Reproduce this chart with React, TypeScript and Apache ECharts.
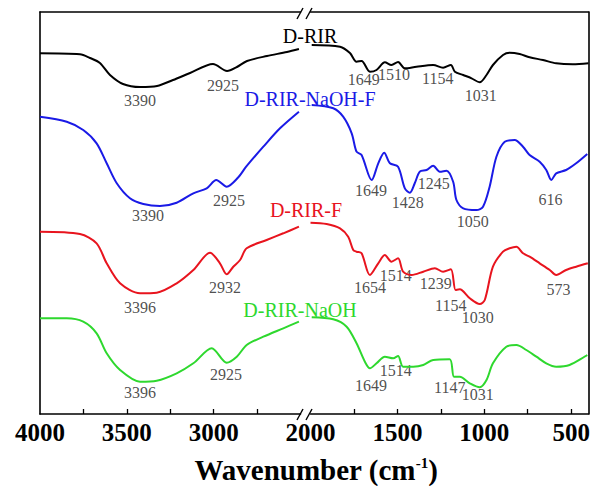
import React, { useEffect, useRef } from "react";
import * as echarts from "echarts";

// Spectra: [wavenumber (cm-1), offset transmittance (a.u.)]
const dRIR: number[][] = [
  [4000, 360.7], [3770, 359.7], [3712, 356], [3655, 351], [3597, 339], [3522, 330], [3424, 327],
  [3326, 328], [3234, 334], [3136, 341], [3004, 350], [2923, 343], [2866, 347], [2808, 353],
  [2693, 358], [2578, 362], [2509, 365],
  [1993, 369], [1830, 367.3], [1773, 361], [1735, 352.3], [1706, 353], [1658, 342.3], [1620, 344],
  [1572, 351.7], [1534, 349], [1496, 352], [1457, 345.7], [1390, 347.3], [1294, 349], [1237, 346.3],
  [1192, 349], [1169, 342.3], [1121, 339], [1073, 335.7], [1026, 331.7], [987, 339], [950, 349],
  [892, 359], [854, 361.3], [796, 360], [739, 356.7], [662, 354], [586, 350.7], [490, 349.7], [400, 350.7],
];

const dRIRNaOHF: number[][] = [
  [4000, 297.3], [3846, 292.3], [3751, 284], [3674, 270.7], [3616, 250.7], [3558, 230.7], [3482, 215.7],
  [3405, 210], [3309, 208], [3213, 211.3], [3117, 220.7], [3040, 225.7], [2985, 234], [2925, 227.3],
  [2858, 236.7], [2813, 247.3], [2714, 267.3], [2618, 285.7], [2509, 302.3],
  [1993, 309], [1869, 305.7], [1812, 297.3], [1763, 280.7], [1735, 262.3], [1706, 259], [1648, 234],
  [1610, 250.7], [1576, 261.3], [1543, 250.7], [1496, 247.3], [1457, 225.7], [1428, 221.3], [1400, 230.7],
  [1371, 242.3], [1332, 244], [1294, 248.3], [1256, 242.3], [1217, 243.3], [1179, 232.3], [1160, 214],
  [1121, 205.7], [1045, 204], [1007, 207.3], [969, 227.3], [930, 257.3], [882, 272.3], [825, 274],
  [777, 267.3], [739, 259], [681, 252.3], [643, 244], [614, 234], [586, 240.7], [529, 244], [471, 250.7],
  [407, 260],
];

const dRIRF: number[][] = [
  [4000, 182.3], [3770, 180], [3674, 170.7], [3616, 150.7], [3539, 130.7], [3424, 120.7], [3328, 121.3],
  [3213, 130.7], [3117, 144], [3021, 161.3], [2964, 150.7], [2925, 139.7], [2887, 147.3], [2848, 154],
  [2810, 165.7], [2695, 174], [2599, 180.7], [2509, 187.3],
  [2000, 191.3], [1907, 190], [1830, 185.7], [1783, 177.3], [1754, 164], [1735, 162.3], [1706, 160.7],
  [1658, 139], [1610, 150.7], [1572, 159], [1534, 152.3], [1496, 155.7], [1467, 142.3], [1418, 139],
  [1351, 142.3], [1284, 145.7], [1237, 142.3], [1192, 144.7], [1165, 124], [1141, 124.7], [1083, 115.7],
  [1026, 110], [997, 114], [950, 147.3], [892, 162.3], [854, 165.7], [815, 167.3], [777, 160.7],
  [739, 157.3], [681, 150.7], [623, 144], [586, 139], [529, 144], [471, 147.3], [404, 150.7],
];

const dRIRNaOH: number[][] = [
  [4000, 95.7], [3846, 95.7], [3751, 92.3], [3674, 80.7], [3616, 60.7], [3539, 44], [3424, 32.3],
  [3328, 33.3], [3213, 40.7], [3117, 50.7], [3011, 65.7], [2925, 51.3], [2867, 57.3], [2810, 69],
  [2714, 77.3], [2599, 85.7], [2509, 92.3],
  [1993, 96.7], [1869, 94.7], [1792, 87.3], [1735, 70.7], [1687, 52.3], [1658, 45.7], [1620, 50.7],
  [1572, 57.3], [1524, 55.7], [1496, 58], [1467, 47.3], [1409, 47.3], [1351, 49], [1294, 54],
  [1199, 54.7], [1174, 37.3], [1141, 37.3], [1083, 30.7], [1026, 26.7], [987, 34], [950, 50.7],
  [873, 67.3], [815, 69], [758, 64], [700, 57.3], [643, 50.7], [586, 47.3], [509, 49], [407, 59],
];

// Peak annotations: [label, anchor wavenumber, anchor level]
const peaksDRIR: [string, number, number][] = [
  ["3390", 3424, 314], ["2925", 2946, 329], ["1649", 1693, 335], ["1510", 1520, 340],
  ["1154", 1268, 336], ["1031", 1020, 319],
];
const peaksDRIRNaOHF: [string, number, number][] = [
  ["3390", 3378, 199], ["2925", 2912, 214], ["1649", 1652, 224], ["1428", 1440, 212],
  ["1245", 1291, 231], ["1050", 1066, 193], ["616", 618, 215],
];
const peaksDRIRF: [string, number, number][] = [
  ["3396", 3424, 107], ["2932", 2935, 127], ["1654", 1657, 127], ["1514", 1509, 139],
  ["1239", 1279, 131], ["1154", 1193, 109], ["1030", 1038, 97], ["573", 572, 125],
];
const peaksDRIRNaOH: [string, number, number][] = [
  ["3396", 3424, 22], ["2925", 2929, 40], ["1649", 1652, 29], ["1514", 1509, 44],
  ["1147", 1199, 27], ["1031", 1038, 20],
];

const sampleNames = ["D-RIR", "D-RIR-NaOH-F", "D-RIR-F", "D-RIR-NaOH"];
const sampleColors = ["#000000", "#1a1ae6", "#e8141e", "#2ed82e"];
const spectra = [dRIR, dRIRNaOHF, dRIRF, dRIRNaOH];
const peaks = [peaksDRIR, peaksDRIRNaOHF, peaksDRIRF, peaksDRIRNaOH];

const leftRange = [2500, 4000];
const rightRange = [400, 2000];
const leftTickLabels = [4000, 3500, 3000];
const rightTickLabels = [2000, 1500, 1000, 500];
const leftTicks = [3750, 3500, 3250, 3000, 2750];
const rightTicks = [1750, 1500, 1250, 1000, 750, 500];

const FONT = "'Liberation Serif', 'Times New Roman', serif";

export default function App() {
  const ref = useRef<HTMLDivElement>(null);
  useEffect(() => {
    if (!ref.current) return;
    const chart = echarts.init(ref.current, undefined, { renderer: "svg" });

    const G0L = 40, G0W = 260.5, G1L = 310.5, G1W = 278, TOP = 12, H = 402;
    const lineW = 1.6;

    const bottomAxis = (gi: number, range: number[], labels: number[], ticks: number[]) => ({
      type: "value", gridIndex: gi, min: range[0], max: range[1], inverse: true, position: "bottom",
      axisLine: { show: true, lineStyle: { color: "#000", width: lineW } },
      axisTick: { show: true, inside: true, length: 5, customValues: ticks, lineStyle: { color: "#000", width: 1.3 } },
      axisLabel: {
        show: true, customValues: labels, margin: 6, color: "#000", fontFamily: FONT,
        fontWeight: "bold", fontSize: 25, hideOverlap: false,
        formatter: (v: number) => String(v),
      },
      splitLine: { show: false },
    });
    const topAxis = (gi: number, range: number[]) => ({
      type: "value", gridIndex: gi, min: range[0], max: range[1], inverse: true, position: "top",
      axisLine: { show: true, lineStyle: { color: "#000", width: lineW } },
      axisTick: { show: false }, axisLabel: { show: false }, splitLine: { show: false },
    });
    const yAx = (gi: number, pos: string) => ({
      type: "value", gridIndex: gi, min: 0, max: 402, position: pos,
      axisLine: { show: true, onZero: false, lineStyle: { color: "#000", width: lineW } },
      axisTick: { show: false }, axisLabel: { show: false }, splitLine: { show: false },
    });

    const series: any[] = [];
    spectra.forEach((data, i) => {
      const left = data.filter((d) => d[0] >= leftRange[0]);
      const right = data.filter((d) => d[0] <= rightRange[1]);
      [left, right].forEach((part, gi) => {
        series.push({
          type: "line", name: sampleNames[i], xAxisIndex: gi, yAxisIndex: gi, data: part,
          showSymbol: false, smooth: 0.3,
          lineStyle: { color: sampleColors[i], width: 2 }, silent: true,
        });
      });
      const pl = peaks[i].filter((p) => p[1] >= leftRange[0]);
      const pr = peaks[i].filter((p) => p[1] <= rightRange[1]);
      [pl, pr].forEach((part, gi) => {
        series.push({
          type: "scatter", xAxisIndex: gi, yAxisIndex: gi, symbolSize: 0, silent: true,
          data: part.map((p) => ({ value: [p[1], p[2]], name: p[0] })),
          label: {
            show: true, position: "inside", formatter: "{b}", color: "#222",
            fontFamily: FONT, fontSize: 16,
          },
          labelLayout: { hideOverlap: false },
        });
      });
    });

    const nameLabelPos = [[310, 36], [310, 99], [306, 210], [300, 310]];

    const slash = (x: number, y: number) => ({
      type: "line", shape: { x1: x - 3, y1: y + 6, x2: x + 3, y2: y - 5 },
      style: { stroke: "#000", lineWidth: 1.4 },
    });

    chart.setOption({
      animation: false,
      backgroundColor: "#fff",
      grid: [
        { left: G0L, top: TOP, width: G0W, height: H, containLabel: false, outerBoundsMode: "none" },
        { left: G1L, top: TOP, width: G1W, height: H, containLabel: false, outerBoundsMode: "none" },
      ],
      xAxis: [
        bottomAxis(0, leftRange, leftTickLabels, leftTicks),
        bottomAxis(1, rightRange, rightTickLabels, rightTicks),
        topAxis(0, leftRange),
        topAxis(1, rightRange),
      ],
      yAxis: [yAx(0, "left"), yAx(1, "right")],
      series,
      graphic: [
        ...sampleNames.map((n, i) => ({
          type: "text", x: nameLabelPos[i][0], y: nameLabelPos[i][1],
          style: {
            text: n, fill: sampleColors[i], font: `20px ${FONT}`,
            align: "center", verticalAlign: "middle",
          },
        })),
        slash(300, 13), slash(309, 13), slash(300, 414), slash(309, 414),
        {
          type: "text", x: 316, y: 470,
          style: {
            text: "{a|Wavenumber (cm}{s|-1}{a|)}",
            align: "center", verticalAlign: "middle",
            rich: {
              a: { fontFamily: FONT, fontWeight: "bold", fontSize: 29, fill: "#000" },
              s: { fontFamily: FONT, fontWeight: "bold", fontSize: 15, fill: "#000", verticalAlign: "top", padding: [0, 0, 14, 0] },
            },
          },
        },
      ],
    });
    return () => chart.dispose();
  }, []);
  return (
    <div
      ref={ref}
      style={{ position: "absolute", left: 0, top: 0, width: 591, height: 486 }}
    />
  );
}
